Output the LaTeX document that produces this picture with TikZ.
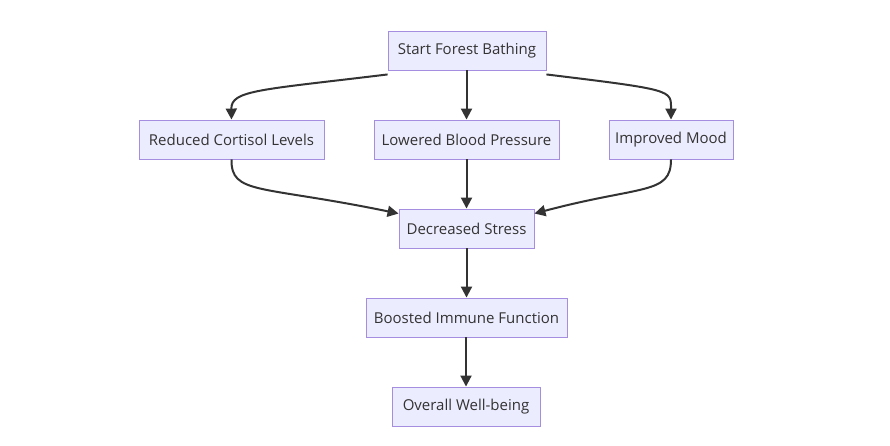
\documentclass[tikz,border=0pt]{standalone}
\usepackage{fontspec}
\setmainfont{Open Sans}
\usetikzlibrary{arrows.meta}
\definecolor{nodefill}{HTML}{ECECFF}
\definecolor{nodeline}{HTML}{A58EE0}
\definecolor{ink}{HTML}{333333}
\tikzset{
  box/.style={draw=nodeline, fill=nodefill, line width=0.9pt, text=ink,
    inner sep=0pt, minimum height=39pt, font=\fontsize{15}{17}\selectfont},
  conn/.style={draw=ink, line width=2pt, -{Triangle[length=11pt,width=11pt]}}
}
\begin{document}
\begin{tikzpicture}[x=1pt,y=-1pt]
\useasboundingbox (0,0) rectangle (890,446);
\node[box, minimum width=158pt] (start) at (467,50.5) {Start Forest Bathing};
\node[box, minimum width=185pt] (cort) at (231.5,139.5) {Reduced Cortisol Levels};
\node[box, minimum width=185pt] (bp) at (466.5,139.5) {Lowered Blood Pressure};
\node[box, minimum width=124pt] (mood) at (671,139.5) {Improved Mood};
\node[box, minimum width=135pt] (stress) at (466.5,228.5) {Decreased Stress};
\node[box, minimum width=201pt] (immune) at (466.5,317.5) {Boosted Immune Function};
\node[box, minimum width=148pt] (well) at (466,406.5) {Overall Well-being};

\draw[conn] ([yshift=-4pt]start.south west) .. controls (260,90) and (231,90) .. (cort.north);
\draw[conn] ([yshift=-4pt]start.south east) .. controls (674,90) and (671,90) .. (mood.north);
\draw[conn] (start.south -| bp.north) -- (bp.north);
\draw[conn] (cort.south) .. controls (231,195) and (260,185) .. ([yshift=-5pt]stress.north west);
\draw[conn] (mood.south) .. controls (671,195) and (642,185) .. ([yshift=-5pt]stress.north east);
\draw[conn] (bp.south) -- (bp.south |- stress.north);
\draw[conn] (stress.south -| immune.north) -- (immune.north);
\draw[conn] (immune.south -| well.north) -- (well.north);
\end{tikzpicture}
\end{document}
